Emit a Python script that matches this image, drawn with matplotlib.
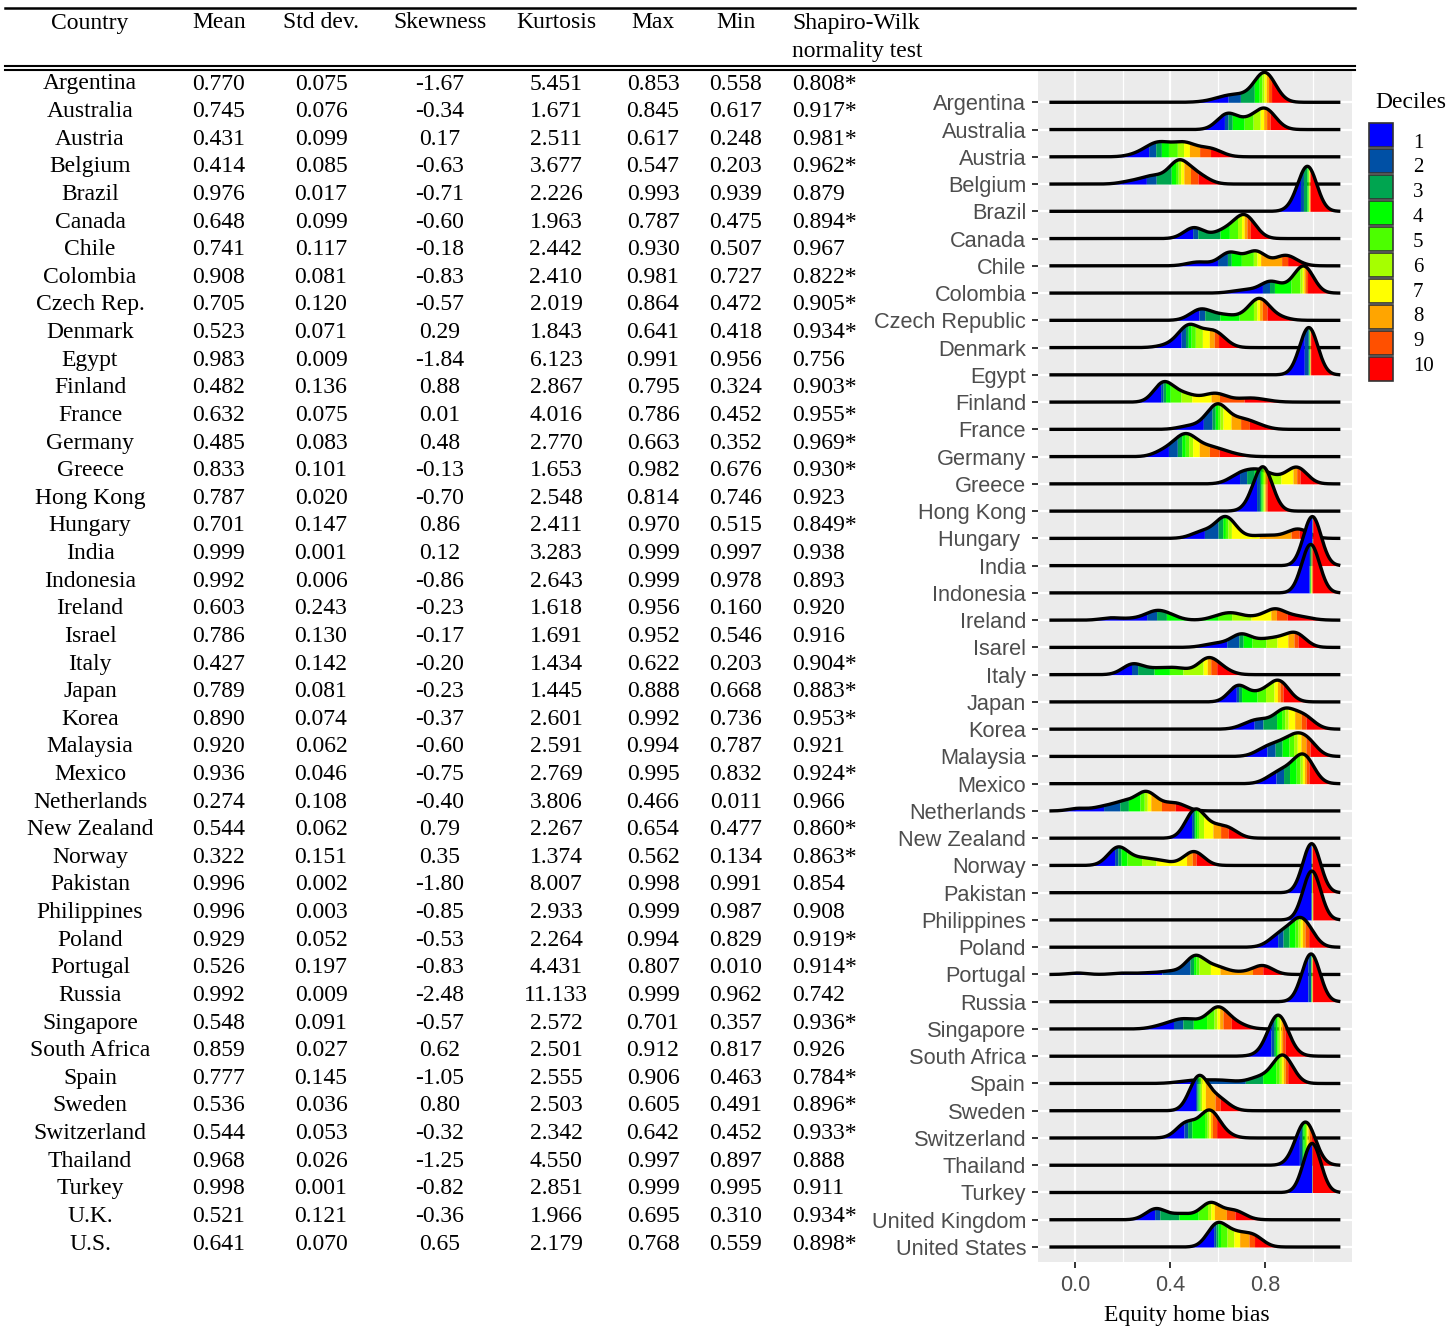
import math

import matplotlib
matplotlib.use("Agg")
import matplotlib.pyplot as plt
import numpy as np
from matplotlib.lines import Line2D
from matplotlib.patches import Rectangle

W, H = 1449, 1327

# ---- summary statistics table -------------------------------------------
COUNTRIES = [
    "Argentina", "Australia", "Austria", "Belgium", "Brazil", "Canada", "Chile",
    "Colombia", "Czech Rep.", "Denmark", "Egypt", "Finland", "France", "Germany",
    "Greece", "Hong Kong", "Hungary", "India", "Indonesia", "Ireland", "Israel",
    "Italy", "Japan", "Korea", "Malaysia", "Mexico", "Netherlands", "New Zealand",
    "Norway", "Pakistan", "Philippines", "Poland", "Portugal", "Russia",
    "Singapore", "South Africa", "Spain", "Sweden", "Switzerland", "Thailand",
    "Turkey", "U.K.", "U.S.",
]
MEANS = [0.770, 0.745, 0.431, 0.414, 0.976, 0.648, 0.741, 0.908, 0.705, 0.523,
         0.983, 0.482, 0.632, 0.485, 0.833, 0.787, 0.701, 0.999, 0.992, 0.603,
         0.786, 0.427, 0.789, 0.890, 0.920, 0.936, 0.274, 0.544, 0.322, 0.996,
         0.996, 0.929, 0.526, 0.992, 0.548, 0.859, 0.777, 0.536, 0.544, 0.968,
         0.998, 0.521, 0.641]
STDS = [0.075, 0.076, 0.099, 0.085, 0.017, 0.099, 0.117, 0.081, 0.120, 0.071,
        0.009, 0.136, 0.075, 0.083, 0.101, 0.020, 0.147, 0.001, 0.006, 0.243,
        0.130, 0.142, 0.081, 0.074, 0.062, 0.046, 0.108, 0.062, 0.151, 0.002,
        0.003, 0.052, 0.197, 0.009, 0.091, 0.027, 0.145, 0.036, 0.053, 0.026,
        0.001, 0.121, 0.070]
SKEWS = [-1.67, -0.34, 0.17, -0.63, -0.71, -0.60, -0.18, -0.83, -0.57, 0.29,
         -1.84, 0.88, 0.01, 0.48, -0.13, -0.70, 0.86, 0.12, -0.86, -0.23,
         -0.17, -0.20, -0.23, -0.37, -0.60, -0.75, -0.40, 0.79, 0.35, -1.80,
         -0.85, -0.53, -0.83, -2.48, -0.57, 0.62, -1.05, 0.80, -0.32, -1.25,
         -0.82, -0.36, 0.65]
KURTS = [5.451, 1.671, 2.511, 3.677, 2.226, 1.963, 2.442, 2.410, 2.019, 1.843,
         6.123, 2.867, 4.016, 2.770, 1.653, 2.548, 2.411, 3.283, 2.643, 1.618,
         1.691, 1.434, 1.445, 2.601, 2.591, 2.769, 3.806, 2.267, 1.374, 8.007,
         2.933, 2.264, 4.431, 11.133, 2.572, 2.501, 2.555, 2.503, 2.342, 4.550,
         2.851, 1.966, 2.179]
MAX_VALS = [0.853, 0.845, 0.617, 0.547, 0.993, 0.787, 0.930, 0.981, 0.864, 0.641,
            0.991, 0.795, 0.786, 0.663, 0.982, 0.814, 0.970, 0.999, 0.999, 0.956,
            0.952, 0.622, 0.888, 0.992, 0.994, 0.995, 0.466, 0.654, 0.562, 0.998,
            0.999, 0.994, 0.807, 0.999, 0.701, 0.912, 0.906, 0.605, 0.642, 0.997,
            0.999, 0.695, 0.768]
MIN_VALS = [0.558, 0.617, 0.248, 0.203, 0.939, 0.475, 0.507, 0.727, 0.472, 0.418,
            0.956, 0.324, 0.452, 0.352, 0.676, 0.746, 0.515, 0.997, 0.978, 0.160,
            0.546, 0.203, 0.668, 0.736, 0.787, 0.832, 0.011, 0.477, 0.134, 0.991,
            0.987, 0.829, 0.010, 0.962, 0.357, 0.817, 0.463, 0.491, 0.452, 0.897,
            0.995, 0.310, 0.559]
SW_STAT = [0.808, 0.917, 0.981, 0.962, 0.879, 0.894, 0.967, 0.822, 0.905, 0.934,
           0.756, 0.903, 0.955, 0.969, 0.930, 0.923, 0.849, 0.938, 0.893, 0.920,
           0.916, 0.904, 0.883, 0.953, 0.921, 0.924, 0.966, 0.860, 0.863, 0.854,
           0.908, 0.919, 0.914, 0.742, 0.936, 0.926, 0.784, 0.896, 0.933, 0.888,
           0.911, 0.934, 0.898]
SW_SIG = [1, 1, 1, 1, 0, 1, 0, 1, 1, 1, 0, 1, 1, 1, 1, 0, 1, 0, 0, 0, 0, 1, 1, 1,
          0, 1, 0, 1, 1, 0, 0, 1, 1, 0, 1, 0, 1, 1, 1, 0, 0, 1, 1]

# ---- ridgeline densities --------------------------------------------------
RIDGE_LABELS = [
    "Argentina", "Australia", "Austria", "Belgium", "Brazil", "Canada", "Chile",
    "Colombia", "Czech Republic", "Denmark", "Egypt", "Finland", "France",
    "Germany", "Greece", "Hong Kong", "Hungary ", "India", "Indonesia", "Ireland",
    "Isarel", "Italy", "Japan", "Korea", "Malaysia", "Mexico", "Netherlands",
    "New Zealand", "Norway", "Pakistan", "Philippines", "Poland", "Portugal",
    "Russia", "Singapore", "South Africa", "Spain", "Sweden", "Switzerland",
    "Thailand", "Turkey", "United Kingdom", "United States",
]
# clusters of home-bias observations per country: (centre, spread, share)
RIDGE_PEAKS = [
    [(0.80, 0.025, 0.70), (0.67, 0.06, 0.30)],
    [(0.64, 0.02, 0.35), (0.72, 0.02, 0.15), (0.80, 0.025, 0.50)],
    [(0.27, 0.03, 0.06), (0.35, 0.035, 0.37), (0.46, 0.035, 0.37), (0.57, 0.03, 0.20)],
    [(0.24, 0.03, 0.07), (0.33, 0.03, 0.20), (0.435, 0.02, 0.48), (0.51, 0.03, 0.25)],
    [(0.955, 0.015, 0.30), (0.985, 0.005, 0.70)],
    [(0.50, 0.02, 0.25), (0.63, 0.03, 0.20), (0.715, 0.025, 0.55)],
    [(0.52, 0.03, 0.10), (0.645, 0.015, 0.24), (0.70, 0.03, 0.12), (0.765, 0.015, 0.28),
     (0.88, 0.02, 0.20), (0.92, 0.02, 0.06)],
    [(0.72, 0.04, 0.10), (0.82, 0.015, 0.22), (0.90, 0.03, 0.13), (0.965, 0.015, 0.55)],
    [(0.53, 0.025, 0.27), (0.62, 0.02, 0.10), (0.70, 0.03, 0.08), (0.775, 0.02, 0.47),
     (0.85, 0.025, 0.08)],
    [(0.40, 0.03, 0.07), (0.475, 0.02, 0.44), (0.53, 0.02, 0.14), (0.59, 0.025, 0.35)],
    [(0.965, 0.01, 0.20), (0.988, 0.003, 0.80)],
    [(0.37, 0.015, 0.38), (0.45, 0.04, 0.26), (0.59, 0.03, 0.22), (0.74, 0.05, 0.14)],
    [(0.47, 0.02, 0.06), (0.54, 0.02, 0.08), (0.60, 0.02, 0.52), (0.70, 0.04, 0.30),
     (0.78, 0.02, 0.04)],
    [(0.37, 0.02, 0.10), (0.465, 0.035, 0.62), (0.57, 0.03, 0.18), (0.64, 0.04, 0.10)],
    [(0.70, 0.03, 0.25), (0.78, 0.03, 0.30), (0.86, 0.02, 0.08), (0.935, 0.02, 0.37)],
    [(0.77, 0.02, 0.25), (0.795, 0.012, 0.75)],
    [(0.54, 0.03, 0.18), (0.635, 0.02, 0.48), (0.80, 0.06, 0.12), (0.94, 0.025, 0.22)],
    [(0.999, 0.001, 1.00)],
    [(0.992, 0.006, 1.00)],
    [(0.15, 0.02, 0.05), (0.25, 0.03, 0.04), (0.34, 0.025, 0.20), (0.40, 0.02, 0.08),
     (0.62, 0.03, 0.12), (0.675, 0.02, 0.10), (0.76, 0.02, 0.06), (0.84, 0.02, 0.23),
     (0.93, 0.04, 0.12)],
    [(0.60, 0.04, 0.12), (0.70, 0.02, 0.28), (0.78, 0.02, 0.10), (0.85, 0.03, 0.20),
     (0.93, 0.02, 0.30)],
    [(0.24, 0.02, 0.22), (0.33, 0.04, 0.15), (0.43, 0.04, 0.18), (0.56, 0.02, 0.35),
     (0.62, 0.02, 0.10)],
    [(0.685, 0.012, 0.33), (0.78, 0.03, 0.22), (0.86, 0.02, 0.45)],
    [(0.72, 0.02, 0.06), (0.78, 0.03, 0.22), (0.88, 0.02, 0.40), (0.96, 0.025, 0.32)],
    [(0.79, 0.02, 0.10), (0.85, 0.03, 0.25), (0.935, 0.03, 0.50), (0.99, 0.01, 0.15)],
    [(0.83, 0.02, 0.10), (0.89, 0.03, 0.30), (0.965, 0.02, 0.60)],
    [(0.01, 0.01, 0.05), (0.12, 0.03, 0.10), (0.21, 0.03, 0.22), (0.30, 0.02, 0.40),
     (0.37, 0.02, 0.08), (0.43, 0.02, 0.15)],
    [(0.505, 0.015, 0.60), (0.58, 0.02, 0.20), (0.645, 0.02, 0.20)],
    [(0.18, 0.02, 0.40), (0.28, 0.04, 0.20), (0.37, 0.03, 0.08), (0.50, 0.02, 0.32)],
    [(0.996, 0.002, 1.00)],
    [(0.997, 0.003, 1.00)],
    [(0.87, 0.03, 0.35), (0.95, 0.02, 0.55), (0.99, 0.01, 0.10)],
    [(0.01, 0.01, 0.03), (0.20, 0.02, 0.03), (0.30, 0.02, 0.03), (0.40, 0.03, 0.08),
     (0.505, 0.015, 0.38), (0.59, 0.03, 0.20), (0.70, 0.03, 0.05), (0.79, 0.02, 0.20)],
    [(0.975, 0.012, 0.15), (0.996, 0.003, 0.85)],
    [(0.37, 0.03, 0.08), (0.45, 0.03, 0.22), (0.52, 0.02, 0.10), (0.60, 0.02, 0.45),
     (0.67, 0.03, 0.15)],
    [(0.85, 0.05, 0.15), (0.855, 0.02, 0.85)],
    [(0.50, 0.05, 0.10), (0.62, 0.05, 0.10), (0.78, 0.03, 0.16), (0.875, 0.02, 0.64)],
    [(0.52, 0.012, 0.70), (0.60, 0.025, 0.30)],
    [(0.47, 0.02, 0.35), (0.565, 0.015, 0.55), (0.62, 0.02, 0.10)],
    [(0.97, 0.02, 1.00)],
    [(0.998, 0.001, 1.00)],
    [(0.34, 0.02, 0.25), (0.45, 0.03, 0.15), (0.57, 0.02, 0.38), (0.67, 0.025, 0.22)],
    [(0.595, 0.015, 0.45), (0.64, 0.02, 0.05), (0.68, 0.03, 0.30), (0.755, 0.015, 0.20)],
]
DECILE_LABELS = ["1", "2", "3", "4", "5", "6", "7", "8", "9", "10"]
DECILE_COLORS = ["#0000FF", "#0050A5", "#00A550", "#00FF00", "#4CFF00",
                 "#A6FF00", "#FFFF00", "#FFA500", "#FF5000", "#FF0000"]

BW = 0.037          # kernel bandwidth shared by all ridges
RIDGE_SCALE = 1.8   # tallest ridge spans this many rows

SERIF = "Liberation Serif"
SANS = "Liberation Sans"


def fx(px):
    return px / W


def fy(py):
    return 1 - py / H


def hrule(fig, y, lw):
    fig.add_artist(Line2D([fx(5), fx(1355)], [fy(y), fy(y)], color="black",
                          lw=lw, transform=fig.transFigure))


fig = plt.figure(figsize=(W / 100, H / 100), dpi=100)

# ---- table -------------------------------------------------------------
hrule(fig, 8, 1.8)
hrule(fig, 65.5, 1.5)
hrule(fig, 69.5, 1.5)

col_x = [90, 219, 321, 440, 556, 653, 736]
headers = ["Country", "Mean", "Std dev.", "Skewness", "Kurtosis", "Max", "Min"]
tstyle = dict(family=SERIF, fontsize=17, color="black", va="baseline")
for cx, name in zip(col_x, headers):
    fig.text(fx(cx), fy(28.5), name, ha="center", **tstyle)
fig.text(fx(792), fy(28.5), "Shapiro-Wilk", ha="left", **tstyle)
fig.text(fx(792), fy(57), "normality test", ha="left", **tstyle)

row_step = 27.62
for i, name in enumerate(COUNTRIES):
    yb = fy(89.5 + i * row_step)
    cells = [name, f"{MEANS[i]:.3f}", f"{STDS[i]:.3f}", f"{SKEWS[i]:.2f}",
             f"{KURTS[i]:.3f}", f"{MAX_VALS[i]:.3f}", f"{MIN_VALS[i]:.3f}"]
    for cx, txt in zip(col_x, cells):
        fig.text(fx(cx), yb, txt, ha="center", **tstyle)
    sw = f"{SW_STAT[i]:.3f}" + ("*" if SW_SIG[i] else "")
    fig.text(fx(792), yb, sw, ha="left", **tstyle)

# ---- ridgeline panel ----------------------------------------------------
n = len(RIDGE_LABELS)
x_lo = min(MIN_VALS) - 3 * BW
x_hi = max(MAX_VALS) + 3 * BW
xs = np.linspace(x_lo, x_hi, 2400)
erf = np.vectorize(math.erf)


def ridge(peaks):
    c = np.array([p[0] for p in peaks])[:, None]
    s = np.array([p[1] for p in peaks])[:, None]
    w = np.array([p[2] for p in peaks])[:, None]
    w = w / w.sum()
    eff = np.sqrt(s ** 2 + BW ** 2)
    dens = (w * np.exp(-0.5 * ((xs - c) / eff) ** 2) / (eff * np.sqrt(2 * np.pi))).sum(0)
    cdf = (w * 0.5 * (1 + erf((xs - c) / (s * np.sqrt(2))))).sum(0)
    return dens, cdf


ridges = [ridge(p) for p in RIDGE_PEAKS]
dmax = max(d.max() for d, _ in ridges)

ax = fig.add_axes([fx(1038), fy(1262), fx(1352) - fx(1038), fy(70) - fy(1262)])
ax.set_facecolor("#EBEBEB")
for sp in ax.spines.values():
    sp.set_visible(False)

for gx in [0.0, 0.4, 0.8]:
    ax.axvline(gx, color="white", lw=1.6, zorder=0.5)
for gx in [0.2, 0.6, 1.0]:
    ax.axvline(gx, color="white", lw=0.9, zorder=0.5)

baselines = [n - 1 - i for i in range(n)]
for yb in baselines:
    ax.axhline(yb, color="white", lw=1.6, zorder=0.5)

for i, (dens, cdf) in enumerate(ridges):
    base = baselines[i]
    top = base + dens / dmax * RIDGE_SCALE
    dec = np.clip(np.floor(cdf * 10), 0, 9).astype(int)
    z = 2 + i
    for j, col in enumerate(DECILE_COLORS):
        m = dec == j
        if not m.any():
            continue
        m = m | np.r_[False, m[:-1]]
        ax.fill_between(xs, base, top, where=m, color=col, lw=0, zorder=z)
    ax.plot(xs, top, color="black", lw=2.4, zorder=z + 0.5,
            solid_joinstyle="round")

ax.set_xlim(-0.156, 1.166)
ax.set_ylim(-0.55, 43.185)
ax.set_yticks(baselines)
ax.set_yticklabels(RIDGE_LABELS, family=SANS)
ax.set_xticks([0.0, 0.4, 0.8])
ax.set_xticklabels(["0.0", "0.4", "0.8"], family=SANS)
ax.tick_params(axis="both", length=4.5, width=1.4, color="#333333",
               labelcolor="#4D4D4D", labelsize=15.7)
ax.tick_params(axis="y", pad=4)
ax.tick_params(axis="x", pad=5)
fig.text(fx(1187), fy(1321.5), "Equity home bias", family=SERIF, fontsize=17,
         ha="center", va="baseline")

# ---- decile legend ------------------------------------------------------
fig.text(fx(1375), fy(108), "Deciles", family=SERIF, fontsize=17,
         ha="left", va="baseline")
for j, (lab, col) in enumerate(zip(DECILE_LABELS, DECILE_COLORS)):
    ky = 122.5 + j * 26.1
    fig.add_artist(Rectangle((fx(1368.5), fy(ky + 24)), (24 / W), (24 / H),
                             facecolor=col, edgecolor="#333333", lw=1.2,
                             transform=fig.transFigure))
    fig.text(fx(1413), fy(143 + j * 24.85), lab, family=SERIF, fontsize=15,
             ha="left", va="center")

fig.savefig("out.png", dpi=100)
